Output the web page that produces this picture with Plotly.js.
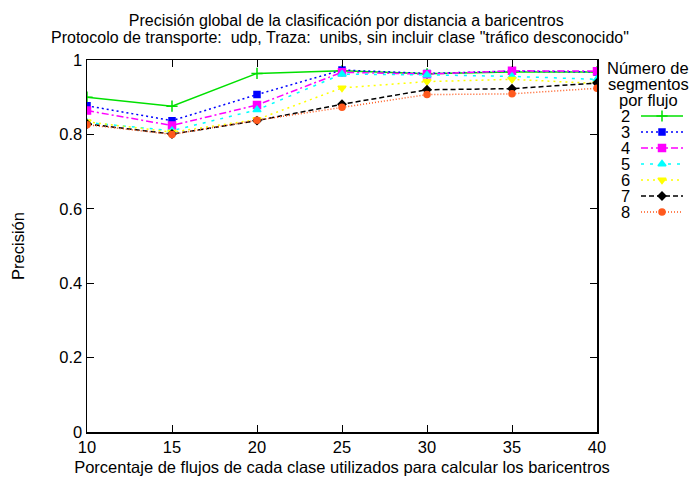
<!DOCTYPE html>
<html>
<head>
<meta charset="utf-8">
<script src="https://cdn.plot.ly/plotly-3.0.1.min.js"></script>
<style>html,body{margin:0;padding:0;background:#fff;}#chart{width:691px;height:481px;}</style>
</head>
<body>
<div id="chart"></div>
<script>
const xValues = [10, 15, 20, 25, 30, 35, 40];
const seriesNames = ["2", "3", "4", "5", "6", "7", "8"];
const s2 = [0.900, 0.876, 0.964, 0.971, 0.963, 0.968, 0.968];
const s3 = [0.877, 0.837, 0.907, 0.973, 0.964, 0.970, 0.968];
const s4 = [0.864, 0.824, 0.879, 0.967, 0.962, 0.971, 0.970];
const s5 = [0.832, 0.810, 0.866, 0.962, 0.960, 0.956, 0.948];
const s6 = [0.834, 0.806, 0.840, 0.925, 0.942, 0.948, 0.937];
const s7 = [0.828, 0.801, 0.837, 0.881, 0.920, 0.923, 0.938];
const s8 = [0.826, 0.800, 0.838, 0.873, 0.907, 0.909, 0.924];
const yTickVals = [0, 0.2, 0.4, 0.6, 0.8, 1];
const xTickVals = [10, 15, 20, 25, 30, 35, 40];
const titleLine1 = "Precisión global de la clasificación por distancia a baricentros";
const titleLine2 = "Protocolo de transporte:  udp, Traza:  unibs, sin incluir clase \"tráfico desconocido\"";
const legendTitleLines = ["Número de", "segmentos", "por flujo"];

const allSeries = [s2, s3, s4, s5, s6, s7, s8];
const styles = [
  {color: "#00e000", dash: "solid", symbol: "cross-thin-open", size: 8},
  {color: "#0000ff", dash: "2px,3px", symbol: "square", size: 6},
  {color: "#ff00ff", dash: "7px,3px,2px,3px", symbol: "square", size: 7},
  {color: "#00ffff", dash: "3px,6px", symbol: "triangle-up", size: 7},
  {color: "#ffff00", dash: "2px,4px", symbol: "triangle-down", size: 7},
  {color: "#000000", dash: "5px,3px", symbol: "diamond", size: 6},
  {color: "#ff5a1e", dash: "1px,2px", symbol: "circle", size: 6}
];

const FS = 16.5;
const font = {family: "Liberation Sans, Arial, sans-serif", color: "#000"};
const F = (s) => Object.assign({size: s}, font);

// data traces
const traces = allSeries.map((ys, i) => ({
  x: xValues, y: ys, name: seriesNames[i], type: "scatter", mode: "lines+markers",
  showlegend: false,
  line: {color: styles[i].color, width: 1.5, dash: styles[i].dash},
  marker: {color: styles[i].color, symbol: styles[i].symbol, size: styles[i].size,
           line: {color: styles[i].color, width: 1.5}}
}));

// key (legend) drawn in a small side axis: row i, sample line spans 0..1
const annotations = [];
seriesNames.forEach((nm, i) => {
  traces.push({
    x: [0, 0.5, 1], y: [i, i, i], xaxis: "x2", yaxis: "y2", type: "scatter", mode: "lines+markers",
    showlegend: false, hoverinfo: "skip",
    line: {color: styles[i].color, width: 1.5, dash: styles[i].dash},
    marker: {color: styles[i].color, symbol: styles[i].symbol, size: styles[i].size,
             opacity: [0, 1, 0], line: {color: styles[i].color, width: 1.5}}
  });
  annotations.push({text: nm, xref: "x2", yref: "y2", x: -0.36, y: i, xanchor: "center", yanchor: "middle",
                    showarrow: false, font: F(FS), borderpad: 0});
});
legendTitleLines.forEach((t, j) => {
  annotations.push({text: t, xref: "x2", yref: "y2", x: 0.17, y: -3 + j * 1.0, xanchor: "center", yanchor: "middle",
                    showarrow: false, font: F(FS), borderpad: 0});
});
annotations.push({text: titleLine2, xref: "paper", yref: "paper", x: 0.422, y: 1, yshift: 23,
                  xanchor: "center", yanchor: "middle", showarrow: false, font: F(16)});

const layout = {
  width: 691, height: 481,
  margin: {l: 87, r: 4, t: 60, b: 49},
  paper_bgcolor: "#fff", plot_bgcolor: "#fff",
  font: F(FS),
  showlegend: false,
  title: {text: titleLine1, font: F(16), x: 0.432, xref: "paper", xanchor: "center",
          y: 1 - 20 / 481, yref: "container", yanchor: "middle"},
  xaxis: {domain: [0, 510 / 600], range: [10, 40], tickvals: xTickVals, ticks: "inside", ticklen: 7, tickcolor: "#000",
          showline: true, linecolor: "#000", linewidth: 1.5, mirror: "ticks", showgrid: false, zeroline: false,
          tickfont: F(FS),
          title: {text: "Porcentaje de flujos de cada clase utilizados para calcular los baricentros",
                  font: F(FS), standoff: 6}},
  yaxis: {range: [0, 1], tickvals: yTickVals, ticks: "inside", ticklen: 7, tickcolor: "#000",
          showline: true, linecolor: "#000", linewidth: 1.5, mirror: "ticks", showgrid: false, zeroline: false,
          tickfont: F(FS),
          title: {text: "Precisión", font: F(FS), standoff: 30}},
  xaxis2: {domain: [(613 - 87) / 600, (683 - 87) / 600], range: [-28 / 42, 1], anchor: "y2",
           visible: false, showgrid: false, zeroline: false, fixedrange: true},
  yaxis2: {domain: [0, 1], range: [19.75, -3.5], anchor: "x2",
           visible: false, showgrid: false, zeroline: false, fixedrange: true},
  annotations: annotations
};

Plotly.newPlot("chart", traces, layout, {displayModeBar: false, staticPlot: true});
</script>
</body>
</html>
